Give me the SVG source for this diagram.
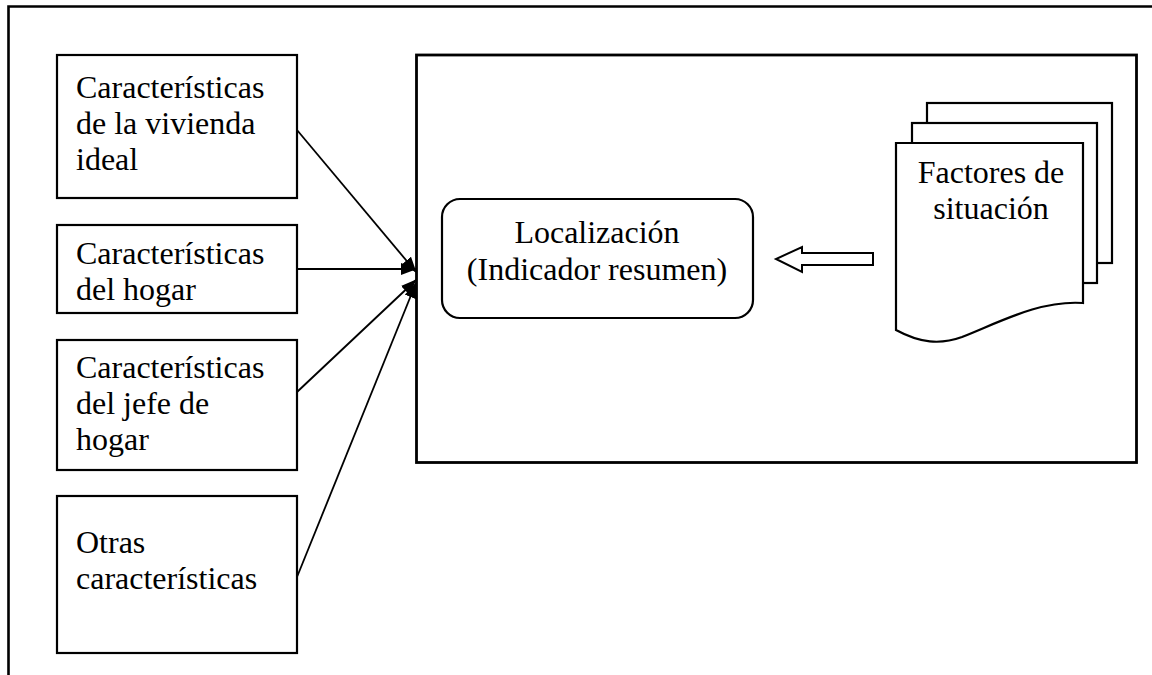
<svg xmlns="http://www.w3.org/2000/svg" width="1152" height="675" viewBox="0 0 1152 675">
<style>
.t{font-family:"Liberation Serif","Times New Roman",serif;font-size:32px;fill:#000}
.box{fill:#fff;stroke:#000;stroke-width:2.2}
.c{stroke:#000;stroke-width:1.8;fill:none}
</style>
<defs>
<marker id="ah" viewBox="0 0 16 12" refX="15" refY="6" markerWidth="16" markerHeight="12" orient="auto" markerUnits="userSpaceOnUse">
<path d="M0,0 L16,6 L0,12 z" fill="#000"/>
</marker>
</defs>
<rect width="1152" height="675" fill="#fff"/>
<g id="frame">
<path d="M8.5,675 V6.5 H1152" fill="none" stroke="#000" stroke-width="2.6"/>
</g>
<g id="main">
<rect x="416.5" y="55" width="720" height="407.5" fill="#fff" stroke="#000" stroke-width="2.8"/>
</g>
<g id="n1">
<rect class="box" x="57" y="55" width="240" height="143"/>
<text class="t" x="76" y="98">Características</text>
<text class="t" x="76" y="134">de la vivienda</text>
<text class="t" x="76" y="170">ideal</text>
</g>
<g id="n2">
<rect class="box" x="57" y="225" width="240" height="88"/>
<text class="t" x="76" y="264">Características</text>
<text class="t" x="76" y="300">del hogar</text>
</g>
<g id="n3">
<rect class="box" x="57" y="340" width="240" height="130"/>
<text class="t" x="76" y="378">Características</text>
<text class="t" x="76" y="414">del jefe de</text>
<text class="t" x="76" y="450">hogar</text>
</g>
<g id="n4">
<rect class="box" x="57" y="496" width="240" height="157"/>
<text class="t" x="76" y="553">Otras</text>
<text class="t" x="76" y="589">características</text>
</g>
<g id="loc">
<rect class="box" x="442" y="199" width="311" height="119" rx="18"/>
<text class="t" x="597" y="243" text-anchor="middle">Localización</text>
<text class="t" x="597" y="280" text-anchor="middle">(Indicador resumen)</text>
</g>
<g id="docs">
<rect class="box" x="927" y="103" width="185" height="160"/>
<rect class="box" x="912" y="123" width="185" height="160"/>
<path class="box" d="M896,143 H1083 V303 C1040,300 1000,322 962,337 C940,345 920,343 896,330 Z"/>
<text class="t" x="991" y="183" text-anchor="middle">Factores de</text>
<text class="t" x="991" y="219" text-anchor="middle">situación</text>
</g>
<g id="connectors">
<line class="c" x1="297" y1="130" x2="416" y2="272" marker-end="url(#ah)"/>
<line class="c" x1="297" y1="269" x2="416" y2="269" marker-end="url(#ah)"/>
<line class="c" x1="297" y1="392" x2="416" y2="280" marker-end="url(#ah)"/>
<line class="c" x1="297" y1="577" x2="416" y2="283" marker-end="url(#ah)"/>
<path d="M873,253 H802 V247 L776,259 L802,272 V265 H873 Z" fill="#fff" stroke="#000" stroke-width="2"/>
</g>
</svg>
